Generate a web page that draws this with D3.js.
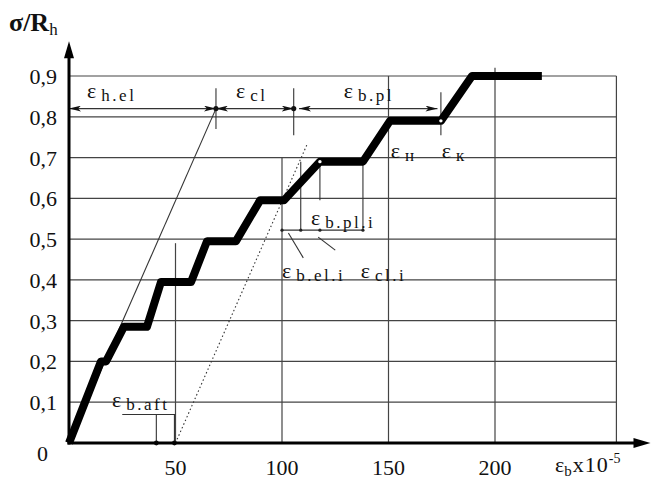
<!DOCTYPE html>
<html lang="en">
  <head>
    <title>stepped loading diagram</title>
    <meta charset="utf-8">
    <style>
      body { margin: 0; background: #fff; }
      text { font-family: "Liberation Serif", "Times New Roman", serif; fill: #111; }
      .grid { stroke: #444; stroke-width: 1.2; fill: none; }
      .thin { stroke: #333; stroke-width: 1.1; fill: none; }
      .tick { font-size: 22px; }
      .eps { font-size: 22px; }
      .sub { font-size: 17px; letter-spacing: 2.5px; }
    </style>
    <script src="https://d3js.org/d3.v7.min.js"></script>
  </head>
  <body>
    <script>

    // tick values and labels
    var yTicks = [0, 0.1, 0.2, 0.3, 0.4, 0.5, 0.6, 0.7, 0.8, 0.9];
    var yLabels = ["0", "0,1", "0,2", "0,3", "0,4", "0,5", "0,6", "0,7", "0,8", "0,9"];
    var xTicks = [50, 100, 150, 200];
    var xLabels = ["50", "100", "150", "200"];

    // vertical grid lines and how high each one goes
    var gridX = [50, 100, 150, 200, 257];
    var gridTop = [0.49, 0.7, 0.9, 0.92, 0.9];

    // the stepped loading curve
    var curveX = [0, 15, 17.4, 25.8, 36.6, 43.2, 57.3, 64.8, 78.4, 89.7, 100.9, 117.8, 138, 150.7, 174.6, 189.2, 222];
    var curveY = [0, 0.2, 0.2, 0.285, 0.285, 0.395, 0.395, 0.495, 0.495, 0.595, 0.595, 0.69, 0.69, 0.79, 0.79, 0.9, 0.9];

    // elastic line and unloading (dotted) line
    var elasticX = [0, 69], elasticY = [0, 0.82];
    var unloadX = [50, 112], unloadY = [0, 0.735];

    // dimension line on top
    var dimY = 0.82;
    var dimSegs = [[0, 69], [69, 105.5], [108, 173]];
    var dimTicksX = [69, 105.5, 174.6];
    var dimTicksTop = [0.87, 0.87, 0.86];
    var dimTicksBottom = [0.77, 0.755, 0.755];

    var W = 656, H = 482;

    var x = d3.scaleLinear().domain([0, 200]).range([69, 495]);
    var y = d3.scaleLinear().domain([0, 0.9]).range([443, 76]);

    var svg = d3.select("body").append("svg")
                .attr("width", W)
                .attr("height", H);

    // horizontal grid
    svg.selectAll(".hgrid")
       .data(yTicks.slice(1))
       .enter().append("line")
       .attr("class", "grid")
       .attr("x1", x(0)).attr("x2", x(257))
       .attr("y1", function(d) { return y(d); })
       .attr("y2", function(d) { return y(d); });

    // vertical grid
    svg.selectAll(".vgrid")
       .data(gridX)
       .enter().append("line")
       .attr("class", "grid")
       .attr("x1", function(d) { return x(d); })
       .attr("x2", function(d) { return x(d); })
       .attr("y1", y(0))
       .attr("y2", function(d, i) { return y(gridTop[i]); });

    var seg = d3.line().x(function(d) { return x(d[0]); }).y(function(d) { return y(d[1]); });

    // b.pl.i box
    var boxY = 0.522;
    var box = [
      [[100, boxY], [138, boxY]],
      [[138, 0.69], [138, boxY]],
      [[108.8, 0.69], [108.8, boxY]],
      [[117.8, 0.69], [117.8, 0.595]]
    ];
    box.forEach(function(b) {
      svg.append("path").attr("class", "thin").attr("d", seg(b));
    });
    [100, 108.8, 117.8, 138].forEach(function(d) {
      svg.append("circle").attr("cx", x(d)).attr("cy", y(boxY)).attr("r", 1.6).attr("fill", "#222");
    });

    // leader lines to b.el.i / cl.i
    var leaders = [
      [[103, 0.515], [110, 0.454]],
      [[117, 0.505], [125, 0.473]]
    ];
    leaders.forEach(function(b) {
      svg.append("path").attr("class", "thin").attr("d", seg(b));
    });

    // b.aft dimension
    var aftX = [41, 49.5];
    var aftY = 0.07;
    svg.append("path").attr("class", "thin").attr("d", seg([[25, aftY], [50, aftY]]));
    aftX.forEach(function(d) {
      svg.append("path").attr("class", "thin").attr("d", seg([[d, aftY], [d, 0]]));
      svg.append("circle").attr("cx", x(d)).attr("cy", y(0)).attr("r", 2.4).attr("fill", "#111");
    });

    // elastic line
    svg.append("path")
       .attr("class", "thin")
       .attr("d", seg(elasticX.map(function(d, i) { return [d, elasticY[i]]; })));

    // unloading dotted line
    svg.append("path")
       .attr("class", "thin")
       .attr("stroke-dasharray", "1.5,2.5")
       .attr("d", seg(unloadX.map(function(d, i) { return [d, unloadY[i]]; })));

    // arrow marker
    svg.append("defs").append("marker")
       .attr("id", "arr")
       .attr("viewBox", "0 0 12 6")
       .attr("refX", 12).attr("refY", 3)
       .attr("markerWidth", 12).attr("markerHeight", 6)
       .attr("markerUnits", "userSpaceOnUse")
       .attr("orient", "auto-start-reverse")
       .append("path").attr("d", "M0,0 L12,3 L0,6 L3,3 Z").attr("fill", "#111");

    dimSegs.forEach(function(s) {
      svg.append("path")
         .attr("class", "thin")
         .attr("stroke-width", 1.8)
         .attr("marker-start", "url(#arr)")
         .attr("marker-end", "url(#arr)")
         .attr("d", seg([[s[0], dimY], [s[1], dimY]]));
    });
    dimTicksX.forEach(function(d, i) {
      svg.append("path").attr("class", "thin")
         .attr("d", seg([[d, dimTicksTop[i]], [d, dimTicksBottom[i]]]));
    });
    [69, 105.5].forEach(function(d) {
      svg.append("circle").attr("cx", x(d)).attr("cy", y(dimY)).attr("r", 2.6).attr("fill", "#111");
    });

    // thick curve
    svg.append("path")
       .attr("fill", "none")
       .attr("stroke", "#000")
       .attr("stroke-width", 8)
       .attr("stroke-linejoin", "round")
       .attr("d", seg(curveX.map(function(d, i) { return [d, curveY[i]]; })));

    // little white marks on the curve
    [[117.8, 0.69], [174.6, 0.79]].forEach(function(p) {
      svg.append("circle").attr("cx", x(p[0])).attr("cy", y(p[1])).attr("r", 1.7).attr("fill", "#fff");
    });

    // axes with arrows
    svg.append("line").attr("stroke", "#000").attr("stroke-width", 3)
       .attr("x1", x(0)).attr("x2", x(0)).attr("y1", y(0) + 1.5).attr("y2", y(0.965));
    svg.append("path").attr("fill", "#000")
       .attr("d", "M" + x(0) + "," + y(0.985) + " l-5,17 l10,0 Z");
    svg.append("line").attr("stroke", "#000").attr("stroke-width", 3)
       .attr("x1", x(0) - 1.5).attr("x2", x(266)).attr("y1", y(0)).attr("y2", y(0));
    svg.append("path").attr("fill", "#000")
       .attr("d", "M" + x(273) + "," + y(0) + " l-17,-5 l0,10 Z");

    // tick labels
    svg.selectAll(".ylab")
       .data(yTicks)
       .enter().append("text")
       .attr("class", "tick")
       .attr("text-anchor", "end")
       .attr("x", function(d) { return d === 0 ? 48 : 57; })
       .attr("y", function(d) { return d === 0 ? y(0) + 18 : y(d) + 8; })
       .text(function(d, i) { return yLabels[i]; });

    svg.selectAll(".xlab")
       .data(xTicks)
       .enter().append("text")
       .attr("class", "tick")
       .attr("text-anchor", "middle")
       .attr("x", function(d) { return x(d); })
       .attr("y", y(0) + 32)
       .text(function(d, i) { return xLabels[i]; });

    // axis titles
    var yt = svg.append("text").attr("x", 9).attr("y", 31)
                .style("font-weight", "bold").style("font-size", "26px");
    yt.append("tspan").text("σ/R");
    yt.append("tspan").attr("dy", 4).style("font-size", "17px").style("font-weight", "normal").text("h");

    var xt = svg.append("text").attr("x", 555).attr("y", 472).style("font-size", "22px");
    xt.append("tspan").text("ε");
    xt.append("tspan").attr("dy", 4).style("font-size", "15px").text("b");
    xt.append("tspan").attr("dy", -4).attr("dx", 1).style("letter-spacing", "1px").text("x10");
    xt.append("tspan").attr("dy", -9).style("font-size", "14px").text("-5");

    // annotation labels
    var notes = [
      {t: "h.el", x: 8.5, y: 0.845},
      {t: "cl", x: 78.4, y: 0.845},
      {t: "b.pl", x: 129, y: 0.845},
      {t: "н", x: 151, y: 0.70},
      {t: "к", x: 175, y: 0.70},
      {t: "b.pl.i", x: 113.6, y: 0.535},
      {t: "b.el.i", x: 100, y: 0.405},
      {t: "cl.i", x: 137, y: 0.405},
      {t: "b.aft", x: 20.2, y: 0.088}
    ];
    notes.forEach(function(n) {
      var t = svg.append("text").attr("x", x(n.x)).attr("y", y(n.y));
      t.append("tspan").attr("class", "eps").text("ε");
      t.append("tspan").attr("class", "sub").attr("dx", 5).attr("dy", 3).text(n.t);
    });

    </script>
  </body>
</html>
